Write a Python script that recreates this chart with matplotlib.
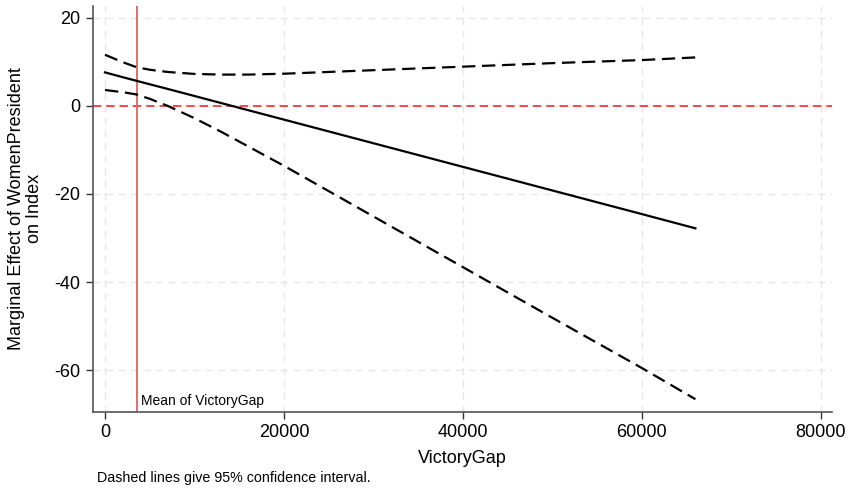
import matplotlib
matplotlib.use("Agg")
import matplotlib.pyplot as plt

plt.rcParams['font.family'] = ['Liberation Sans', 'DejaVu Sans']

victory_gap = [0, 2000, 3500, 5000, 7000, 10000, 13000, 16000, 20000, 30000, 40000, 50000, 60000, 66000]
marginal_effect = [7.6, 6.5, 5.7, 4.9, 3.85, 2.24, 0.63, -0.98, -3.12, -8.48, -13.84, -19.2, -24.56, -27.8]
ci_upper = [11.6, 9.9, 8.8, 8.2, 7.7, 7.25, 7.1, 7.1, 7.3, 8.1, 8.9, 9.7, 10.4, 11.0]
ci_lower = [3.6, 3.1, 2.6, 1.6, 0.0, -2.8, -5.9, -9.2, -13.6, -25.1, -36.6, -48.1, -59.5, -66.6]
mean_victory_gap = 3575
x_ticks = [0, 20000, 40000, 60000, 80000]
y_ticks = [-60, -40, -20, 0, 20]

fig = plt.figure(figsize=(8.48, 4.9), dpi=100)
ax = fig.add_axes([0.1097, 0.1592, 0.871, 0.8288])

grid_kw = dict(color='#e6e6e6', lw=1.0, ls=(0, (5, 4)), zorder=0)
for xt in x_ticks:
    ax.axvline(xt, **grid_kw)
for yt in y_ticks:
    ax.axhline(yt, **grid_kw)

ax.axhline(0, color='#e8302a', lw=1.2, ls=(0, (5, 3)), zorder=1)
ax.axvline(mean_victory_gap, color='#e06060', lw=1.3, zorder=1)

ax.plot(victory_gap, marginal_effect, color='black', lw=1.6, zorder=3)
ax.plot(victory_gap, ci_upper, color='black', lw=1.6, ls=(0, (6, 3)), zorder=3)
ax.plot(victory_gap, ci_lower, color='black', lw=1.6, ls=(0, (6, 3)), zorder=3)

ax.set_xlim(-1340, 81230)
ax.set_ylim(-69.5, 22.7)
ax.set_xticks(x_ticks)
ax.set_yticks(y_ticks)
ax.set_xticklabels([str(v) for v in x_ticks])
ax.set_yticklabels([str(v) for v in y_ticks])
ax.tick_params(axis='both', labelsize=13, length=5, width=1, color='#333333', pad=4)

for s in ['top', 'right']:
    ax.spines[s].set_visible(False)
for s in ['left', 'bottom']:
    ax.spines[s].set_color('#555555')
    ax.spines[s].set_linewidth(1.2)

ax.text(mean_victory_gap + 500, -68.5, 'Mean of VictoryGap', fontsize=10, va='bottom', ha='left')

ax.set_xlabel('VictoryGap', fontsize=13, labelpad=6)
ax.set_ylabel('Marginal Effect of WomenPresident\non Index', fontsize=13, labelpad=8, linespacing=1.1)

fig.text(97 / 848, 1 - 478 / 490, 'Dashed lines give 95% confidence interval.', fontsize=10.3, va='center', ha='left')

fig.savefig('out.png', dpi=100)
